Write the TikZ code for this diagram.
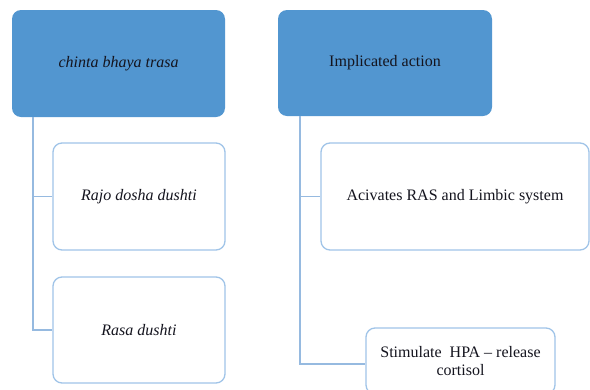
\documentclass[tikz,border=0pt]{standalone}
\usepackage{fontspec}
\setmainfont{Liberation Serif}
\begin{document}
\begin{tikzpicture}[x=1pt,y=-1pt,
  head/.style={rectangle,rounded corners=9pt,fill=headblue,draw=none,text=txt,font=\fontsize{16}{17.5}\selectfont,inner sep=0pt},
  child/.style={rectangle,rounded corners=9pt,fill=white,draw=childline,line width=1.3pt,text=txt,font=\fontsize{16}{17.5}\selectfont,inner sep=0pt,align=center},
  conn/.style={draw=connline,line width=1.4pt}]
\definecolor{headblue}{RGB}{82,150,208}
\definecolor{childline}{RGB}{160,196,232}
\definecolor{connline}{RGB}{150,186,224}
\definecolor{txt}{RGB}{20,20,30}
\useasboundingbox (0,0) rectangle (590,389);
\fill[white] (0,0) rectangle (590,389);
% left column
\node[head,minimum width=213pt,minimum height=107pt] (lh) at (118.5,63.5) {\itshape chinta bhaya trasa};
\node[child,minimum width=172pt,minimum height=107pt] (lc1) at (139,196.5) {\itshape Rajo dosha dushti};
\node[child,minimum width=172pt,minimum height=106pt] (lc2) at (139,330) {\itshape Rasa dushti};
% right column
\node[head,minimum width=214pt,minimum height=106pt] (rh) at (385,63) {Implicated action};
\node[child,minimum width=268pt,minimum height=107pt] (rc1) at (455,196.5) {Acivates RAS and Limbic system};
\node[child,minimum width=189pt,minimum height=66pt] (rc2) at (460.5,361) {Stimulate\ \ HPA -- release\\cortisol};
% connectors
\coordinate (lt) at ([xshift=21pt]lh.south west);
\coordinate (rt) at ([xshift=22pt]rh.south west);
\draw[conn] (lt) |- (lc1.west);
\draw[conn] (lt) |- (lc2.west);
\draw[conn] (rt) |- (rc1.west);
\draw[conn] (rt) |- ([yshift=-3pt]rc2.west);
\end{tikzpicture}
\end{document}
